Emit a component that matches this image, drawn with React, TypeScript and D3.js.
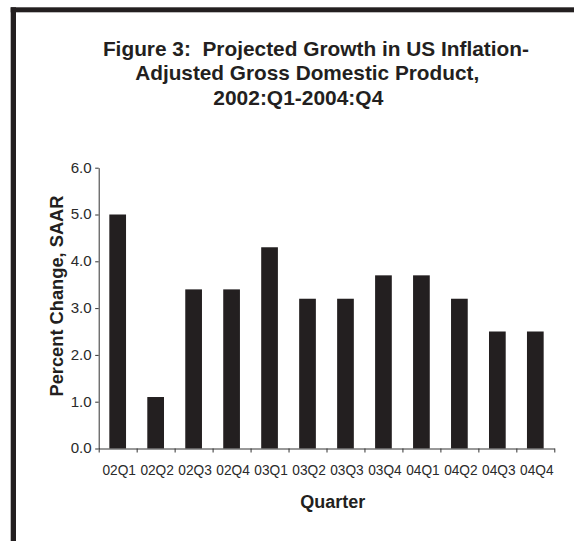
import React, { useRef, useEffect } from "react";
import * as d3 from "d3";

const quarters = ["02Q1", "02Q2", "02Q3", "02Q4", "03Q1", "03Q2", "03Q3", "03Q4", "04Q1", "04Q2", "04Q3", "04Q4"];
const growth = [5.0, 1.1, 3.4, 3.4, 4.3, 3.2, 3.2, 3.7, 3.7, 3.2, 2.5, 2.5];
const yTicks = [0, 1, 2, 3, 4, 5, 6];
const titleLines = [
    "Figure 3:  Projected Growth in US Inflation-",
    "Adjusted Gross Domestic Product,",
    "2002:Q1-2004:Q4",
];

const W = 574;
const H = 541;
const INK = "#231f20";
const FONT = "'Liberation Sans', Arial, Helvetica, sans-serif";

const App: React.FC = () => {
    const ref = useRef<SVGSVGElement | null>(null);

    useEffect(() => {
        if (!ref.current) return;
        const svg = d3.select(ref.current);
        svg.selectAll("*").remove();

        const plot = { left: 98.7, right: 554.3, top: 167.7, bottom: 448.5 };

        // frame (only top and left edges are visible in the crop)
        svg.append("rect").attr("x", 10.7).attr("y", 7.3).attr("width", W).attr("height", 5).attr("fill", INK);
        svg.append("rect").attr("x", 10.7).attr("y", 7.3).attr("width", 5.3).attr("height", H).attr("fill", INK);

        // title
        const titlePos = [
            { cx: 315.9, y: 56, len: 426 },
            { cx: 307.2, y: 80, len: 344 },
            { cx: 298.3, y: 104.5, len: 170 },
        ];
        svg
            .append("g")
            .selectAll("text")
            .data(titleLines)
            .enter()
            .append("text")
            .attr("x", (_, i) => titlePos[i].cx)
            .attr("y", (_, i) => titlePos[i].y)
            .attr("text-anchor", "middle")
            .attr("textLength", (_, i) => titlePos[i].len)
            .attr("lengthAdjust", "spacingAndGlyphs")
            .attr("font-family", FONT)
            .attr("font-size", 21)
            .attr("font-weight", "bold")
            .attr("fill", INK)
            .style("white-space", "pre")
            .text(d => d);

        const x = d3
            .scaleBand()
            .domain(quarters)
            .range([plot.left, plot.right])
            .paddingInner(0.56)
            .paddingOuter(0.28);

        const y = d3.scaleLinear().domain([0, 6]).range([plot.bottom, plot.top]);

        // bars
        svg
            .append("g")
            .attr("fill", INK)
            .selectAll("rect")
            .data(growth)
            .enter()
            .append("rect")
            .attr("x", (_, i) => x(quarters[i])!)
            .attr("y", d => y(d))
            .attr("width", x.bandwidth())
            .attr("height", d => y(0) - y(d));

        // y axis
        const yAxis = svg
            .append("g")
            .attr("transform", `translate(${plot.left},0)`)
            .call(
                d3
                    .axisLeft(y)
                    .tickValues(yTicks)
                    .tickSize(3.5)
                    .tickSizeOuter(0)
                    .tickPadding(3.5)
                    .tickFormat(d3.format(".1f") as any)
            );
        yAxis.selectAll("path, line").attr("stroke", "#333").attr("stroke-width", 1);
        yAxis
            .selectAll("text")
            .attr("font-family", FONT)
            .attr("font-size", 14)
            .attr("fill", "#2a2a2a")
            .attr("textLength", 21)
            .attr("lengthAdjust", "spacingAndGlyphs");

        // x axis: ticks sit on the band edges
        const edges = d3.scaleLinear().domain([0, quarters.length]).range([plot.left, plot.right]);
        const xAxis = svg
            .append("g")
            .attr("transform", `translate(0,${plot.bottom})`)
            .call(
                d3
                    .axisBottom(edges)
                    .tickValues(d3.range(quarters.length + 1))
                    .tickSize(4)
                    .tickSizeOuter(0)
                    .tickFormat(() => "")
            );
        xAxis.selectAll("path, line").attr("stroke", "#333").attr("stroke-width", 1);

        svg
            .append("g")
            .selectAll("text")
            .data(quarters)
            .enter()
            .append("text")
            .attr("x", d => x(d)! + x.bandwidth() / 2 + 1.5)
            .attr("y", plot.bottom + 26.5)
            .attr("text-anchor", "middle")
            .attr("textLength", 33.5)
            .attr("lengthAdjust", "spacingAndGlyphs")
            .attr("font-family", FONT)
            .attr("font-size", 14)
            .attr("fill", "#2a2a2a")
            .text(d => d);

        // axis titles
        svg
            .append("text")
            .attr("transform", "translate(63.3,296) rotate(-90)")
            .attr("text-anchor", "middle")
            .attr("textLength", 201)
            .attr("lengthAdjust", "spacingAndGlyphs")
            .attr("font-family", FONT)
            .attr("font-size", 18)
            .attr("font-weight", "bold")
            .attr("fill", INK)
            .text("Percent Change, SAAR");

        svg
            .append("text")
            .attr("x", 332.8)
            .attr("y", 508.3)
            .attr("text-anchor", "middle")
            .attr("font-family", FONT)
            .attr("font-size", 18)
            .attr("font-weight", "bold")
            .attr("fill", INK)
            .text("Quarter");
    }, []);

    return (
        <svg
            ref={ref}
            width={W}
            height={H}
            style={{ position: "absolute", left: 0, top: 0, background: "#fff" }}
        />
    );
};

export default App;
